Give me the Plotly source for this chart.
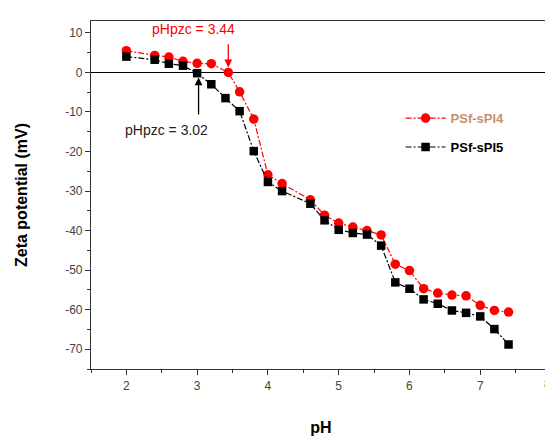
import plotly.graph_objects as go

# Data
ph_sPI4 = [2.0, 2.4, 2.6, 2.8, 3.0, 3.2, 3.44, 3.6, 3.8, 4.0, 4.2, 4.6, 4.8, 5.0, 5.2, 5.4, 5.6, 5.8, 6.0, 6.2, 6.4, 6.6, 6.8, 7.0, 7.2, 7.4]
zeta_sPI4 = [5.5, 4.3, 3.9, 2.8, 2.3, 2.2, 0.0, -4.9, -11.8, -25.9, -28.1, -32.2, -36.1, -38.1, -39.1, -40.0, -41.1, -48.5, -50.1, -54.7, -55.8, -56.3, -56.5, -58.9, -60.2, -60.6]
ph_sPI5 = [2.0, 2.4, 2.6, 2.8, 3.0, 3.2, 3.4, 3.6, 3.8, 4.0, 4.2, 4.6, 4.8, 5.0, 5.2, 5.4, 5.6, 5.8, 6.0, 6.2, 6.4, 6.6, 6.8, 7.0, 7.2, 7.4]
zeta_sPI5 = [4.0, 3.2, 2.2, 1.7, -0.2, -3.0, -6.5, -9.8, -19.9, -27.7, -30.0, -33.2, -37.4, -39.8, -40.6, -41.0, -43.8, -53.1, -54.7, -57.4, -58.5, -60.2, -60.8, -61.7, -64.9, -68.8]
pzc_sPI4 = 3.44
pzc_sPI5 = 3.02
x_ticks = [2, 3, 4, 5, 6, 7, 8]
y_ticks = [10, 0, -10, -20, -30, -40, -50, -60, -70]
y_ticktext = ["10", "0", "-10", "-20", "-30", "-40", "-50", "-60", "-70"]

FONT = "Arial, 'Liberation Sans', sans-serif"
DASH = "6px,2px,2px,2px"

fig = go.Figure()
fig.add_trace(go.Scatter(
    x=ph_sPI4, y=zeta_sPI4, mode="lines+markers",
    name="<b><span style='color:#c8906a'>PSf-sPI4</span></b>", legendgroup="a",
    line=dict(color="#ff0000", width=1.2, dash=DASH),
    marker=dict(symbol="circle", size=9.5, color="#ff0000"),
))
fig.add_trace(go.Scatter(
    x=ph_sPI5, y=zeta_sPI5, mode="lines+markers",
    name="<b>PSf-sPI5</b>", legendgroup="b",
    line=dict(color="#000000", width=1.2, dash=DASH),
    marker=dict(symbol="square", size=8.5, color="#000000"),
))

# pHpzc annotations with arrows
fig.add_annotation(x=pzc_sPI4, y=0, ax=pzc_sPI4, ay=7.5, axref="x", ayref="y",
                   showarrow=True, arrowhead=2, arrowsize=1.2, arrowwidth=1.3,
                   arrowcolor="#ff0000", standoff=5, text="")
fig.add_annotation(x=2.95, y=10.9, xref="x", yref="y", showarrow=False,
                   text="pHpzc = 3.44", font=dict(family=FONT, size=14, color="#ff0000"))
fig.add_annotation(x=pzc_sPI5, y=0, ax=pzc_sPI5, ay=-11, axref="x", ayref="y",
                   showarrow=True, arrowhead=2, arrowsize=1.2, arrowwidth=1.3,
                   arrowcolor="#000000", standoff=5, text="")
fig.add_annotation(x=2.57, y=-14.5, xref="x", yref="y", showarrow=False,
                   text="pHpzc = 3.02", font=dict(family=FONT, size=14, color="#222222"))

# last x tick label (on the figure edge; kept just inside it)
fig.add_annotation(x=x_ticks[-1], y=0, xref="x", yref="paper", yanchor="top", yshift=-6,
                   xanchor="right", xshift=2, showarrow=False, text=str(x_ticks[-1]),
                   font=dict(family=FONT, size=12, color="#444"))

fig.update_layout(
    width=545, height=429,
    margin=dict(l=83, r=2, t=13, b=68, autoexpand=False),
    paper_bgcolor="white", plot_bgcolor="white",
    font=dict(family=FONT, size=12, color="#333333"),
    showlegend=True,
    legend=dict(x=0.673, y=0.764, xanchor="left", yanchor="top",
                bgcolor="rgba(0,0,0,0)", font=dict(family=FONT, size=13, color="#000000"),
                tracegroupgap=9, itemwidth=40),
)
fig.update_xaxes(
    range=[1.5, 8], tickvals=x_ticks, ticks="outside", ticklen=5, tickwidth=1,
    tickcolor="#333", showline=True, linecolor="#333", linewidth=1.2, mirror=True,
    showgrid=False, zeroline=False, automargin=False,
    minor=dict(ticks="outside", ticklen=3, dtick=0.5, tick0=1.5, tickcolor="#333", showgrid=False),
    title=dict(text="<b>pH</b>", font=dict(family=FONT, size=16, color="#000"), standoff=30),
    tickfont=dict(family=FONT, size=12, color="#444"),
)
fig.update_yaxes(
    range=[-75, 13], tickvals=y_ticks, ticktext=y_ticktext, ticks="outside", ticklen=5, tickwidth=1,
    tickcolor="#333", showline=True, linecolor="#333", linewidth=1.2, mirror=True,
    showgrid=False, zeroline=True, zerolinecolor="#000", zerolinewidth=1, automargin=False,
    minor=dict(ticks="outside", ticklen=3, dtick=5, tick0=0, tickcolor="#333", showgrid=False),
    title=dict(text="<b>Zeta potential (mV)</b>", font=dict(family=FONT, size=16, color="#000"), standoff=33),
    tickfont=dict(family=FONT, size=12, color="#444"),
)

fig.write_html("out.html")
